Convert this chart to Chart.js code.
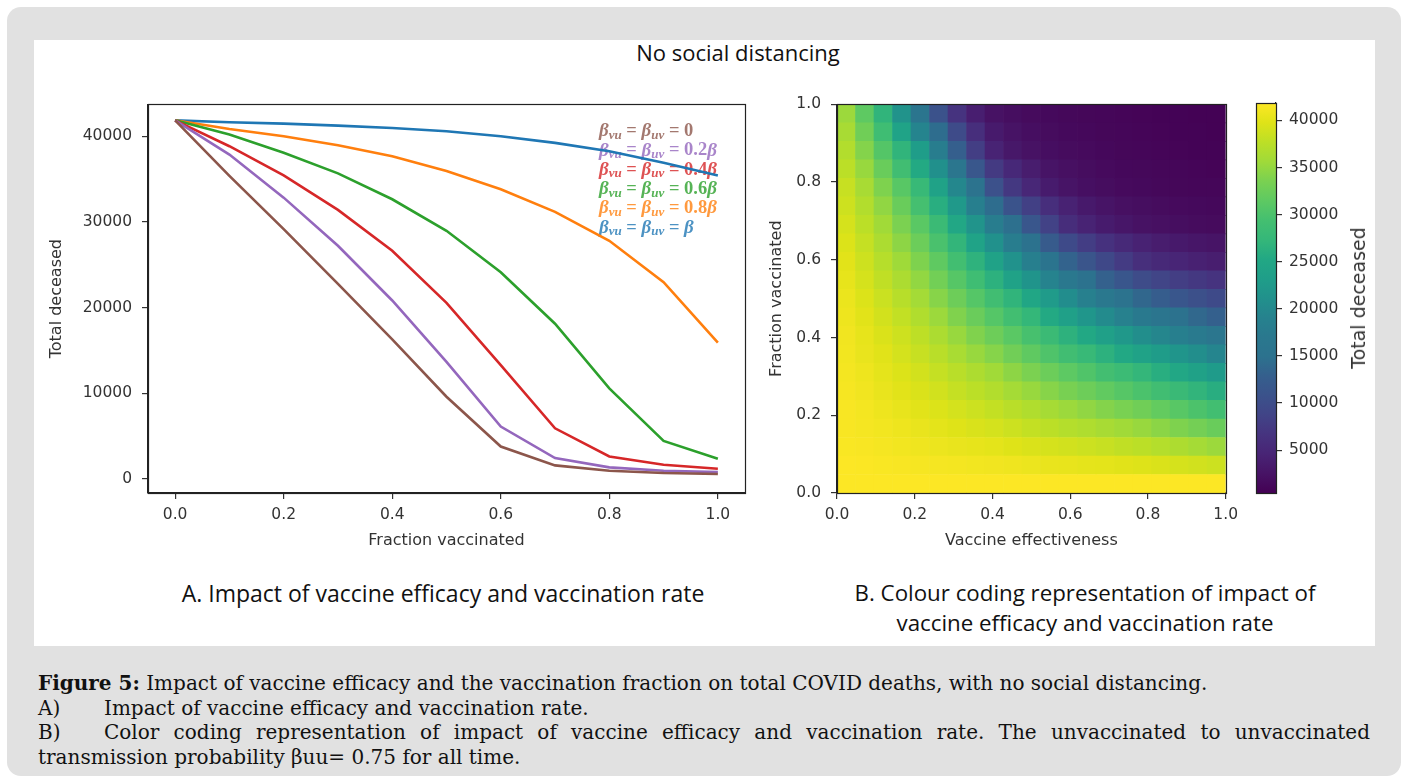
<!DOCTYPE html>
<html>
<head>
<meta charset="utf-8">
<script src="https://cdn.jsdelivr.net/npm/chart.js@4.4.1/dist/chart.umd.min.js"></script>
<style>
  body { margin: 0; width: 1409px; height: 780px; background: #fff; position: relative; overflow: hidden; }
  #frame { position: absolute; left: 7px; top: 7px; width: 1394px; height: 769px; background: #e1e1e1; border-radius: 14px; }
  #panel { position: absolute; left: 34px; top: 40px; width: 1341px; height: 606px; background: #fff; }
  canvas { position: absolute; }
  .head { position: absolute; font-family: 'Open Sans', sans-serif; color: #111; text-align: center; white-space: nowrap; }
  #cbTitle { position: absolute; left: 1358px; top: 298px; font-family: 'DejaVu Sans'; font-size: 19px; color: #333;
             transform: translate(-50%, -50%) rotate(-90deg); white-space: nowrap; }
  #caption { position: absolute; left: 38px; top: 671px; width: 1332px; font-family: 'DejaVu Serif'; font-size: 20px;
             line-height: 24.5px; color: #111; }
  #caption .lbl { display: inline-block; width: 66px; }
  #caption .just { text-align: justify; text-align-last: justify; }
</style>
</head>
<body>
<div id="frame"></div>
<div id="panel"></div>

<div class="head" style="left:538px; top:38px; width:400px; font-size:22px; line-height:28px;">No social distancing</div>
<div class="head" style="left:143px; top:578px; width:600px; font-size:23px; line-height:30px;">A. Impact of vaccine efficacy and vaccination rate</div>
<div class="head" style="left:785px; top:578px; width:600px; font-size:22.3px; line-height:30px;">B. Colour coding representation of impact of<br>vaccine efficacy and vaccination rate</div>

<canvas id="lines" width="725" height="480" style="left:40px; top:85px;"></canvas>
<canvas id="heat" width="480" height="480" style="left:765px; top:85px;"></canvas>
<canvas id="cbar" width="140" height="480" style="left:1240px; top:85px;"></canvas>
<div id="cbTitle">Total deceased</div>

<div id="caption">
  <div><b>Figure 5:</b> Impact of vaccine efficacy and the vaccination fraction on total COVID deaths, with no social distancing.</div>
  <div><span class="lbl">A)</span>Impact of vaccine efficacy and vaccination rate.</div>
  <div class="just"><span class="lbl">B)</span>Color coding representation of impact of vaccine efficacy and vaccination rate. The unvaccinated to unvaccinated</div>
  <div>transmission probability βuu= 0.75 for all time.</div>
</div>

<script>
// ---- panel A: total deceased vs fraction vaccinated ----
var fracVaccinated = [0.0, 0.1, 0.2, 0.3, 0.4, 0.5, 0.6, 0.7, 0.8, 0.9, 1.0];
var deathsBeta0  = [41850, 35380, 29150, 22760, 16300, 9600, 3790, 1590, 970, 700, 580];
var deathsBeta02 = [41850, 37860, 32830, 27220, 20830, 13670, 6120, 2440, 1360, 970, 810];
var deathsBeta04 = [41850, 38830, 35420, 31400, 26640, 20560, 13280, 5920, 2630, 1660, 1200];
var deathsBeta06 = [41850, 40190, 38060, 35660, 32640, 28960, 24120, 18120, 10570, 4450, 2360];
var deathsBeta08 = [41850, 40840, 39990, 38950, 37670, 35930, 33800, 31170, 27800, 22960, 15910];
var deathsBeta1  = [41850, 41620, 41460, 41230, 40960, 40570, 39990, 39220, 38250, 36900, 35420];
var legendCoef = ['0', '0.2β', '0.4β', '0.6β', '0.8β', 'β'];
var lineColors = ['#8c564b', '#9467bd', '#d62728', '#2ca02c', '#ff7f0e', '#1f77b4'];
var lineXTicks = [0.0, 0.2, 0.4, 0.6, 0.8, 1.0];
var lineYTicks = [0, 10000, 20000, 30000, 40000];

// ---- panel B: grid of total deceased, rows = fraction vaccinated (bottom up), cols = effectiveness ----
var heatEff  = [0, 0.05, 0.1, 0.15, 0.2, 0.25, 0.3, 0.35, 0.4, 0.45, 0.5, 0.55, 0.6, 0.65, 0.7, 0.75, 0.8, 0.85, 0.9, 0.95, 1.0];
var heatFrac = [0, 0.05, 0.1, 0.15, 0.2, 0.25, 0.3, 0.35, 0.4, 0.45, 0.5, 0.55, 0.6, 0.65, 0.7, 0.75, 0.8, 0.85, 0.9, 0.95, 1.0];
var heatRows = [
  [41800,41800,41800,41800,41800,41800,41800,41800,41800,41800,41800,41800,41800,41800,41800,41800,41800,41800,41800,41800,41800],
  [41800,41700,41600,41500,41400,41300,41200,41100,41000,40900,40700,40500,40400,40200,40100,39900,39700,39500,39200,38900,38600],
  [41600,41500,41300,41100,40900,40700,40500,40300,40100,39800,39500,39200,38900,38600,38300,37900,37600,37100,36600,36000,35400],
  [41500,41300,41100,40800,40500,40100,39800,39400,39100,38600,38100,37600,37100,36700,36200,35700,35200,34500,33800,33100,32300],
  [41500,41200,40800,40400,40000,39600,39100,38600,38100,37400,36800,36100,35400,34800,34100,33500,32800,31900,31000,30100,29200],
  [41400,41000,40500,40000,39500,38900,38200,37600,36900,36000,35200,34300,33400,32600,31700,30900,30000,29000,28000,27000,26000],
  [41200,40800,40200,39600,39000,38200,37400,36600,35700,34600,33600,32500,31400,30400,29300,28300,27200,26100,25000,23900,22800],
  [41100,40500,39900,39100,38300,37400,36300,35200,34200,32900,31600,30300,29000,27800,26500,25300,24000,22900,21800,20700,19500],
  [41000,40300,39500,38700,37700,36500,35200,33900,32600,31200,29700,28200,26600,25200,23700,22300,20800,19700,18500,17400,16300],
  [40800,40000,39000,38000,36800,35400,33900,32400,30800,29100,27300,25400,23600,21900,20300,18800,17300,16100,15000,13900,13000],
  [40600,39600,38500,37300,35900,34300,32600,30800,29000,26900,24800,22700,20600,18700,16900,15300,13700,12500,11400,10500,9600],
  [40300,39200,37900,36500,34900,33000,30900,28800,26500,24100,21700,19200,16900,15000,13100,11400,9900,8900,8000,7300,6700],
  [40000,38700,37200,35600,33800,31600,29200,26700,24100,21300,18500,15800,13300,11200,9300,7600,6100,5300,4700,4200,3800],
  [39600,38200,36500,34600,32500,29900,27100,24200,21100,18000,15000,12200,9600,7900,6400,5300,4300,3700,3300,2900,2700],
  [39200,37600,35700,33600,31200,28200,25000,21600,18100,14700,11500,8500,5900,4500,3500,2900,2400,2200,1900,1700,1600],
  [38700,36900,34800,32300,29500,26100,22400,18400,14400,11000,8300,6000,4300,3300,2600,2200,1900,1700,1500,1400,1300],
  [38300,36200,33800,31000,27800,24000,19800,15200,10600,7300,5000,3500,2600,2100,1800,1500,1400,1200,1100,1000,1000],
  [37600,35200,32300,29000,25400,21000,16300,11600,7500,5200,3700,2700,2200,1800,1500,1300,1200,1100,1000,900,800],
  [36900,34100,30700,26900,23000,18000,12800,8000,4500,3100,2400,2000,1700,1500,1300,1100,1000,900,800,700,700],
  [36200,32800,28800,24200,19400,14400,9800,6000,3400,2500,2000,1700,1400,1300,1100,1000,900,800,700,700,600],
  [35400,31500,26900,21500,15900,10800,6700,3900,2400,1900,1600,1400,1200,1100,1000,900,800,700,700,600,600]
];
var heatTicks = [0.0, 0.2, 0.4, 0.6, 0.8, 1.0];
var cbMin = 450, cbMax = 41850;
var cbTicks = [5000, 10000, 15000, 20000, 25000, 30000, 35000, 40000];

// viridis colour map stops, 0 -> 1
var viridisStops = ['#440154','#471365','#482475','#46337f','#414487','#3b528b','#355f8d','#2c728e','#2a788e','#26828e',
                    '#21918c','#1f9e89','#22a884','#35b779','#44bf70','#5ec962','#7ad151','#a0da39','#bddf26','#dfe318','#fde725'];

function hexRgb(h) {
  return [parseInt(h.slice(1, 3), 16), parseInt(h.slice(3, 5), 16), parseInt(h.slice(5, 7), 16)];
}
function viridis(t) {
  t = Math.min(1, Math.max(0, t));
  var p = t * (viridisStops.length - 1);
  var i = Math.min(Math.floor(p), viridisStops.length - 2);
  var f = p - i;
  var a = hexRgb(viridisStops[i]), b = hexRgb(viridisStops[i + 1]);
  return 'rgb(' + [0, 1, 2].map(function (k) { return Math.round(a[k] + (b[k] - a[k]) * f); }).join(',') + ')';
}
function oneDecimal(v) { return v.toFixed(1); }
function plainNumber(v) { return String(v); }

Chart.defaults.font.family = 'DejaVu Sans';
Chart.defaults.font.size = 15.5;
Chart.defaults.color = '#333';

// box round the plot area, like matplotlib spines
var frameBox = {
  id: 'frameBox',
  afterDraw: function (chart) {
    var a = chart.chartArea, ctx = chart.ctx;
    ctx.save();
    ctx.strokeStyle = '#222';
    ctx.lineWidth = 1.2;
    ctx.strokeRect(Math.round(a.left) + 0.5, Math.round(a.top) + 0.5, Math.round(a.right - a.left), Math.round(a.bottom - a.top));
    ctx.restore();
  }
};

// coloured β labels in the upper right of panel A
var mathLegend = {
  id: 'mathLegend',
  beforeDatasetsDraw: function (chart) {
    var ctx = chart.ctx, a = chart.chartArea;
    var big = 'italic bold 19px "Liberation Serif"', sub = 'italic bold 13px "Liberation Serif"', up = 'bold 18.5px "Liberation Serif"';
    ctx.save();
    ctx.textBaseline = 'middle';
    chart.data.datasets.forEach(function (ds, i) {
      var x = a.left + 451, y = a.top + 27 + i * 19.3;
      ctx.fillStyle = ds.borderColor;
      ctx.globalAlpha = 0.8;
      function run(text, font, dy) { ctx.font = font; ctx.fillText(text, x, y + dy); x += ctx.measureText(text).width; }
      run('β', big, 0); run('vu', sub, 4);
      run(' = ', up, 0);
      run('β', big, 0); run('uv', sub, 4);
      run(' = ', up, 0);
      var c = legendCoef[i];
      if (c.endsWith('β')) {
        if (c.length > 1) run(c.slice(0, -1), up, 0);
        run('β', big, 0);
      } else {
        run(c, up, 0);
      }
    });
    ctx.restore();
  }
};

function axisStyle(extra) {
  var base = {
    offset: false,
    grid: { display: true, offset: false, drawOnChartArea: false, drawTicks: true, tickLength: 6, color: '#333', lineWidth: 1.2 },
    border: { display: true, color: '#222', width: 1.2 }
  };
  return Object.assign(base, extra);
}

var lineSeries = [deathsBeta0, deathsBeta02, deathsBeta04, deathsBeta06, deathsBeta08, deathsBeta1];

new Chart(document.getElementById('lines'), {
  type: 'line',
  data: {
    datasets: lineSeries.map(function (vals, i) {
      return {
        label: 'βvu = βuv = ' + legendCoef[i],
        data: fracVaccinated.map(function (x, k) { return { x: x, y: vals[k] }; }),
        borderColor: lineColors[i],
        borderWidth: 2.6,
        pointRadius: 0,
        tension: 0,
        fill: false
      };
    })
  },
  options: {
    responsive: false,
    animation: false,
    layout: { padding: { top: 18, right: 20, left: 0, bottom: 0 } },
    plugins: { legend: { display: false }, tooltip: { enabled: false } },
    scales: {
      x: axisStyle({
        type: 'linear', min: -0.05, max: 1.05,
        afterBuildTicks: function (ax) { ax.ticks = lineXTicks.map(function (v) { return { value: v }; }); },
        afterFit: function (ax) { ax.height = 72; },
        ticks: { autoSkip: false, maxRotation: 0, color: '#333', padding: 7, callback: oneDecimal },
        title: { display: true, text: 'Fraction vaccinated', font: { size: 16 }, color: '#333', padding: { top: 0, bottom: 15 } }
      }),
      y: axisStyle({
        type: 'linear', min: -1628, max: 43720,
        afterBuildTicks: function (ax) { ax.ticks = lineYTicks.map(function (v) { return { value: v }; }); },
        afterFit: function (ax) { ax.width = 108; },
        ticks: { autoSkip: false, color: '#333', padding: 10, callback: plainNumber },
        title: { display: true, text: 'Total deceased', font: { size: 16 }, color: '#333', padding: { top: 7, bottom: 0 } }
      })
    }
  },
  plugins: [frameBox, mathLegend]
});

// heat map: each fraction row is one stacked dataset of unit-height cells
new Chart(document.getElementById('heat'), {
  type: 'bar',
  data: {
    labels: heatEff.map(function (v) { return v.toFixed(2); }),
    datasets: heatRows.map(function (row, j) {
      return {
        label: 'fraction ' + heatFrac[j],
        data: row.map(function () { return 1; }),
        backgroundColor: row.map(function (v) { return viridis((v - cbMin) / (cbMax - cbMin)); }),
        borderWidth: 0,
        barPercentage: 1,
        categoryPercentage: 1
      };
    })
  },
  options: {
    responsive: false,
    animation: false,
    layout: { padding: { top: 18, right: 18, left: 0, bottom: 0 } },
    plugins: { legend: { display: false }, tooltip: { enabled: false } },
    scales: {
      x: { display: false, stacked: true },
      y: { display: false, stacked: true, min: 0, max: heatFrac.length },
      effAxis: axisStyle({
        type: 'linear', position: 'bottom', min: 0, max: 1,
        afterBuildTicks: function (ax) { ax.ticks = heatTicks.map(function (v) { return { value: v }; }); },
        afterFit: function (ax) { ax.height = 72; },
        ticks: { autoSkip: false, maxRotation: 0, color: '#333', padding: 7, callback: oneDecimal },
        title: { display: true, text: 'Vaccine effectiveness', font: { size: 16 }, color: '#333', padding: { top: 0, bottom: 15 } }
      }),
      fracAxis: axisStyle({
        type: 'linear', position: 'left', min: 0, max: 1, beginAtZero: false,
        afterBuildTicks: function (ax) { ax.ticks = heatTicks.map(function (v) { return { value: v }; }); },
        afterFit: function (ax) { ax.width = 72; },
        ticks: { autoSkip: false, color: '#333', padding: 10, callback: oneDecimal },
        title: { display: true, text: 'Fraction vaccinated', font: { size: 16 }, color: '#333', padding: { top: 2, bottom: 0 } }
      })
    }
  },
  plugins: [frameBox]
});

// colour bar
new Chart(document.getElementById('cbar'), {
  type: 'bar',
  data: {
    labels: ['Total deceased'],
    datasets: [{
      data: [[cbMin, cbMax]],
      backgroundColor: function (c) {
        var a = c.chart.chartArea;
        if (!a) return viridisStops[0];
        var g = c.chart.ctx.createLinearGradient(0, a.bottom, 0, a.top);
        viridisStops.forEach(function (s, k) { g.addColorStop(k / (viridisStops.length - 1), s); });
        return g;
      },
      borderWidth: 0,
      barPercentage: 1,
      categoryPercentage: 1
    }]
  },
  options: {
    responsive: false,
    animation: false,
    layout: { padding: { top: 18, right: 0, left: 16, bottom: 72 } },
    plugins: { legend: { display: false }, tooltip: { enabled: false } },
    scales: {
      x: { display: false },
      y: axisStyle({
        position: 'right', min: cbMin, max: cbMax,
        afterBuildTicks: function (ax) { ax.ticks = cbTicks.map(function (v) { return { value: v }; }); },
        afterFit: function (ax) { ax.width = 104; },
        ticks: { autoSkip: false, color: '#333', padding: 7, callback: plainNumber }
      })
    }
  },
  plugins: [frameBox]
});
</script>
</body>
</html>
